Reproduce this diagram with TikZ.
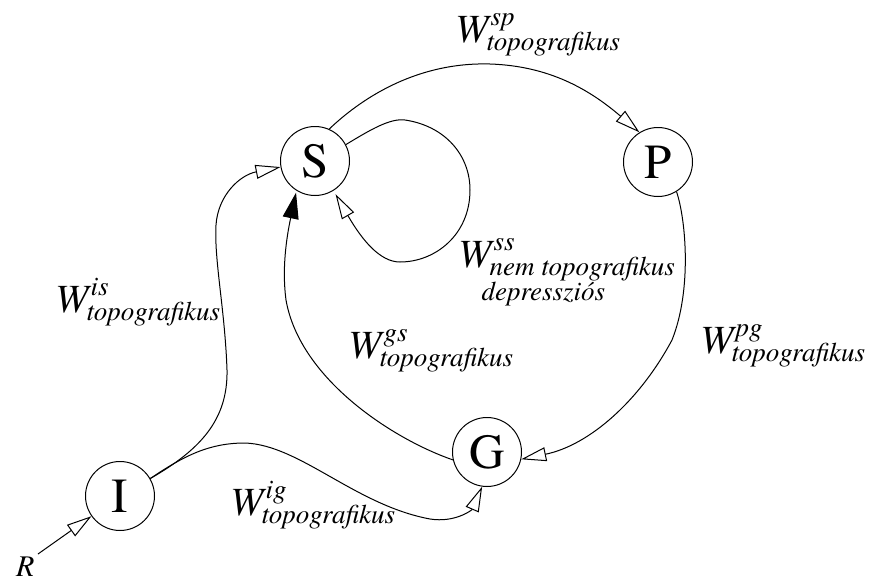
\documentclass[tikz,border=0pt]{standalone}
\usepackage{fontspec}
\setmainfont{TeX Gyre Termes}
\usetikzlibrary{arrows.meta}
\newcommand\subsz{\fontsize{27}{25}\selectfont\itshape}
\newcommand\Wlab[2]{{\fontsize{40}{40}\selectfont\itshape W}\kern-2pt\rlap{\kern4pt\raisebox{17pt}{\subsz #1}}\raisebox{-8pt}{\subsz #2}}
\newcommand\Wlabb[3]{{\fontsize{40}{40}\selectfont\itshape W}\kern-2pt\rlap{\kern4pt\raisebox{17pt}{\subsz #1}}\raisebox{-8pt}{\subsz\begin{tabular}[t]{@{}l@{}}#2\\\hspace{-8pt}#3\end{tabular}}}
\tikzset{
  state/.style={circle, draw, line width=1pt, minimum size=69pt, inner sep=0pt, font=\fontsize{49}{49}\selectfont},
  conn/.style={line width=1pt},
  opentip/.style={-{Triangle[open,length=25pt,width=14pt,line width=1pt]}},
  filltip/.style={-{Triangle[length=26pt,width=16pt]}},
  lab/.style={anchor=base west, inner sep=0pt},
}
\begin{document}
\begin{tikzpicture}[x=1pt,y=-1pt]
\useasboundingbox (0,0) rectangle (871,581);
\node[state] (S) at (315,161) {S};
\node[state] (P) at (658,162) {P};
\node[state] (G) at (487,452) {G};
\node[state] (I) at (120,496) {I};
\node[lab, font=\fontsize{30}{30}\selectfont\itshape] (R) at (16,576) {R};
\coordinate (Rt) at (38,554);

\draw[conn,opentip] (Rt) -- (I);
\draw[conn,opentip] (I.30) .. controls (200,450) and (228,420) .. (227,370)
  .. controls (225,310) and (214,260) .. (216,225)
  .. controls (218,195) and (240,175) .. (S.190);
\draw[conn,opentip] (I.30) .. controls (185,455) and (210,443) .. (245,443)
  .. controls (300,445) and (355,505) .. (430,519)
  .. controls (455,523) and (472,510) .. (G.262);
\draw[conn,filltip,shorten >=2pt] (G.193) .. controls (395,440) and (300,380) .. (286,300)
  .. controls (282,270) and (286,240) .. (S.238);
\draw[conn,opentip] (P.302) .. controls (686,220) and (692,290) .. (672,340)
  .. controls (640,400) and (590,445) .. (G.348);
\draw[conn,opentip] (S.66) .. controls (365,95) and (420,62) .. (490,64)
  .. controls (550,66) and (590,90) .. (P.122);
\draw[conn,opentip,shorten >=4pt] (S.28) .. controls (370,130) and (390,118) .. (405,120)
  .. controls (445,126) and (470,155) .. (470,190)
  .. controls (470,235) and (435,262) .. (400,262)
  .. controls (380,262) and (362,240) .. (S.302);

\node[lab] (Lsp) at (455,42) {\Wlab{sp}{topografikus}};
\node[lab] (Lis) at (55,312) {\Wlab{is}{topografikus}};
\node[lab] (Lss) at (458,267) {\Wlabb{ss}{nem topografikus}{depressziós}};
\node[lab] (Lgs) at (348,358) {\Wlab{gs}{topografikus}};
\node[lab] (Lig) at (230,515) {\Wlab{ig}{topografikus}};
\node[lab] (Lpg) at (700,353) {\Wlab{pg}{topografikus}};
\end{tikzpicture}
\end{document}
